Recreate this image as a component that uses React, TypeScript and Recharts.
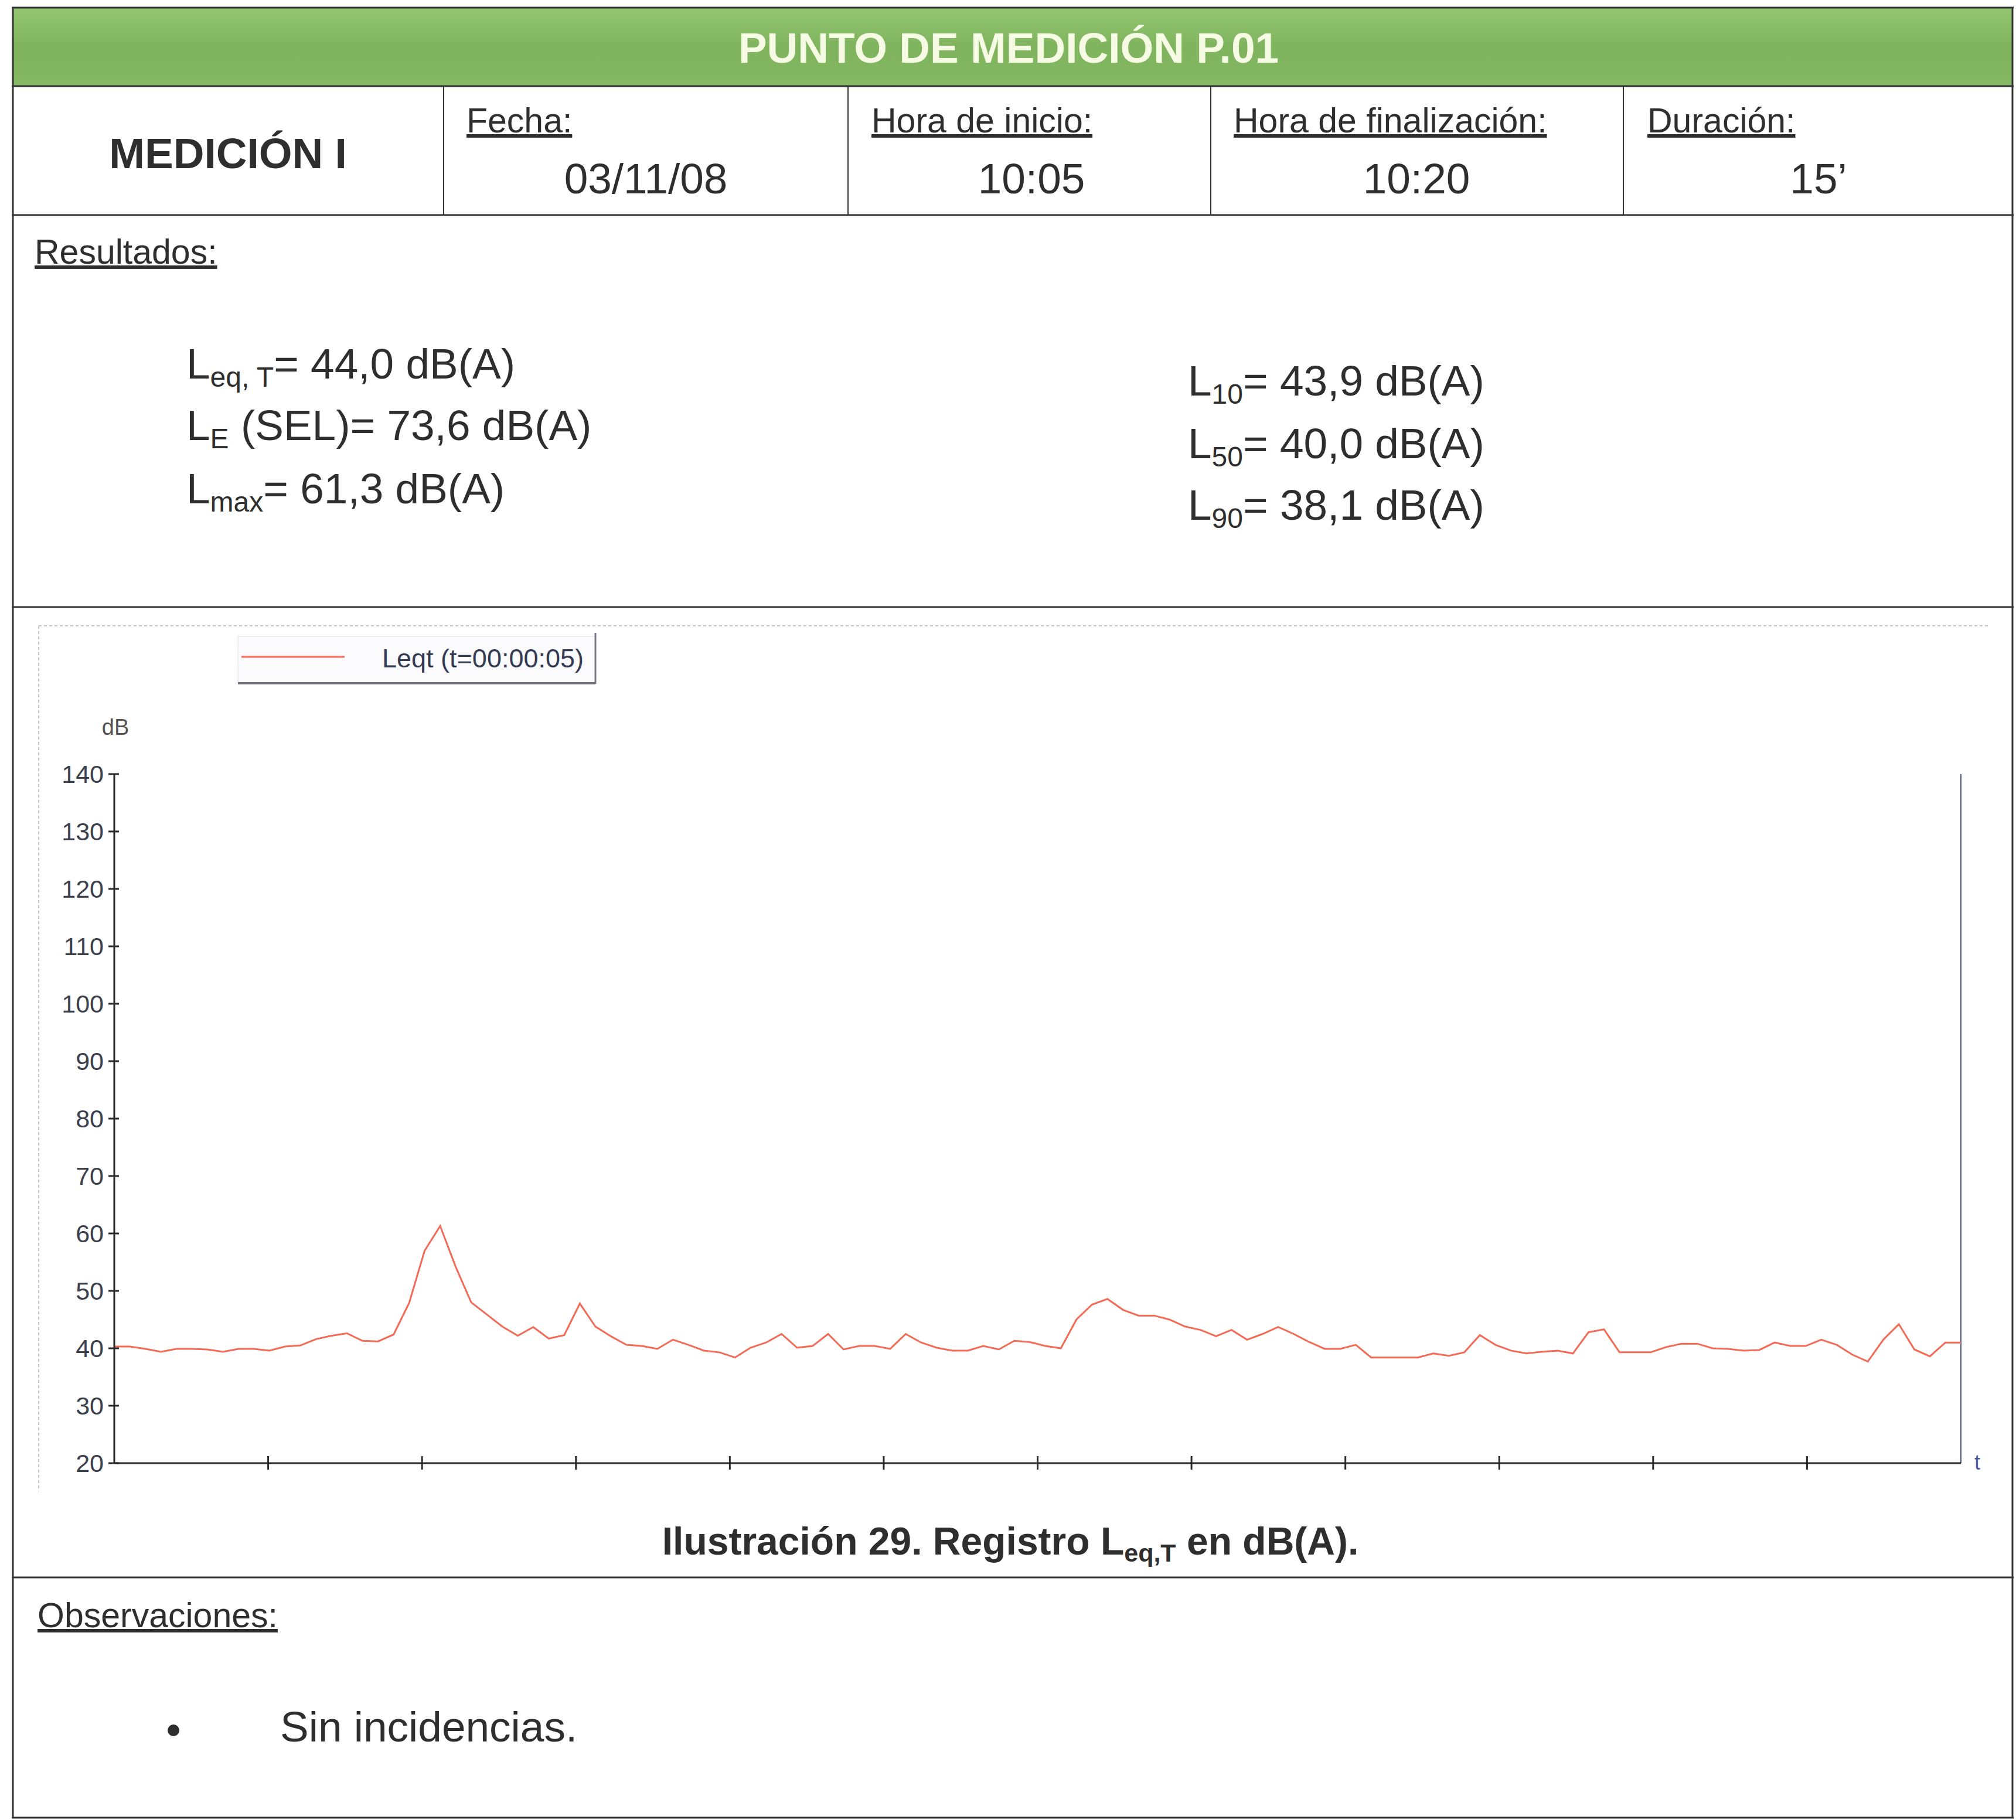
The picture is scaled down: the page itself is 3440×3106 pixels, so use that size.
import React from 'react';
import { LineChart, Line, XAxis, YAxis, ReferenceLine } from 'recharts';

// Leqt values (dB(A)), one every ~7.5 s over the 15' measurement
const LEQT: number[] = [
  40.3, 40.3, 39.9, 39.4, 39.9, 39.9, 39.8, 39.4, 39.9, 39.9,
  39.6, 40.3, 40.5, 41.6, 42.2, 42.6, 41.3, 41.2, 42.4, 47.9,
  57.0, 61.3, 54.2, 48.0, 45.9, 43.8, 42.2, 43.7, 41.7, 42.3,
  47.8, 43.8, 42.1, 40.6, 40.4, 39.9, 41.5, 40.6, 39.6, 39.3,
  38.4, 40.1, 41.0, 42.5, 40.1, 40.4, 42.5, 39.8, 40.4, 40.4,
  39.9, 42.5, 41.0, 40.1, 39.6, 39.6, 40.4, 39.8, 41.3, 41.1,
  40.4, 40.0, 45.0, 47.6, 48.6, 46.7, 45.7, 45.7, 45.0, 43.8,
  43.2, 42.1, 43.2, 41.5, 42.5, 43.7, 42.5, 41.1, 39.9, 39.9,
  40.6, 38.4, 38.4, 38.4, 38.4, 39.1, 38.7, 39.3, 42.3, 40.6,
  39.6, 39.1, 39.4, 39.6, 39.1, 42.8, 43.3, 39.3, 39.3, 39.3,
  40.2, 40.8, 40.8, 40.0, 39.9, 39.6, 39.7, 41.0, 40.4, 40.4,
  41.5, 40.6, 38.9, 37.7, 41.5, 44.2, 39.8, 38.6, 41.0, 41.0,
];

const Y_TICKS = [20, 30, 40, 50, 60, 70, 80, 90, 100, 110, 120, 130, 140];
const X_DIVISIONS = 12;
const SERIES_NAME = 'Leqt (t=00:00:05)';
const Y_UNIT = 'dB';
const X_UNIT = 't';

const TITLE = 'PUNTO DE MEDICIÓN P.01';
const MEASURE = 'MEDICIÓN I';
const FIELD_LABELS = ['Fecha:', 'Hora de inicio:', 'Hora de finalización:', 'Duración:'];
const FIELD_VALUES = ['03/11/08', '10:05', '10:20', '15’'];

const RESULTS_LEFT = [
  { sub: 'eq, T', rest: '= 44,0 dB(A)' },
  { sub: 'E', rest: ' (SEL)= 73,6 dB(A)' },
  { sub: 'max', rest: '= 61,3 dB(A)' },
];
const RESULTS_RIGHT = [
  { sub: '10', rest: '= 43,9 dB(A)' },
  { sub: '50', rest: '= 40,0 dB(A)' },
  { sub: '90', rest: '= 38,1 dB(A)' },
];

const data = LEQT.map((v, i) => ({ i, v }));
const LAST = LEQT.length - 1;
const X_TICKS = Array.from({ length: X_DIVISIONS - 1 }, (_, j) => ((j + 1) * LAST) / X_DIVISIONS);

const FONT = "'Liberation Sans', Arial, Helvetica, sans-serif";
const INK = '#2e2e2e';
const AXIS = '#2b2b2b';

const Y_MARGIN = 18;
const YTick = (props: any) => {
  const { x, y, payload } = props;
  const ax = x + Y_MARGIN;
  return (
    <g>
      <line x1={ax - 10} x2={ax + 8} y1={y} y2={y} stroke={AXIS} strokeWidth={3} />
      <text x={x} y={y} textAnchor="end" dominantBaseline="central" fontSize={43} fontFamily={FONT} fill="#3c404c">
        {payload.value}
      </text>
    </g>
  );
};

const X_MARGIN = 2;
const XTick = (props: any) => {
  const { x, y } = props;
  const ay = y - X_MARGIN;
  return <line x1={x} x2={x} y1={ay - 12} y2={ay + 11} stroke={AXIS} strokeWidth={3} />;
};

export default function App() {
  const labelX = [796, 1487, 2105, 2811];
  const valueX = [1102, 1760, 2417, 3103];
  const leftBase = [646, 751, 859];
  const rightBase = [675, 782, 887];
  return (
    <div style={{ position: 'absolute', left: 0, top: 0, width: 3440, height: 3106, background: '#fff', overflow: 'hidden' }}>
      <svg width={3440} height={3106} style={{ position: 'absolute', left: 0, top: 0 }}>
        <defs>
          <linearGradient id="hdr" x1="0" y1="0" x2="0" y2="1">
            <stop offset="0" stopColor="#94c672" />
            <stop offset="0.5" stopColor="#7fb35d" />
            <stop offset="1" stopColor="#84b862" />
          </linearGradient>
        </defs>
        <rect x={22} y={13} width={3412} height={134} fill="url(#hdr)" />
        <text x={1721} y={107} textAnchor="middle" fontFamily={FONT} fontWeight="bold" fontSize={73} fill="#f6fbe4">
          {TITLE}
        </text>
        {/* table lines */}
        <g stroke="#333" strokeWidth={3}>
          <line x1={20} x2={3436} y1={13} y2={13} />
          <line x1={20} x2={3436} y1={147} y2={147} />
          <line x1={20} x2={3436} y1={367} y2={367} />
          <line x1={20} x2={3436} y1={1036} y2={1036} />
          <line x1={20} x2={3436} y1={2692} y2={2692} />
          <line x1={20} x2={3436} y1={3102} y2={3102} />
          <line x1={22} x2={22} y1={13} y2={3102} />
          <line x1={3434} x2={3434} y1={13} y2={3102} />
        </g>
        <g stroke="#333" strokeWidth={2}>
          {[757, 1447, 2066, 2770].map((x) => (
            <line key={x} x1={x} x2={x} y1={147} y2={367} />
          ))}
        </g>
        <text x={389} y={287} textAnchor="middle" fontFamily={FONT} fontWeight="bold" fontSize={73} fill={INK}>
          {MEASURE}
        </text>
        {FIELD_LABELS.map((l, i) => (
          <text key={l} x={labelX[i]} y={226} fontFamily={FONT} fontSize={59} fill={INK} style={{ textDecoration: 'underline' }}>
            {l}
          </text>
        ))}
        {FIELD_VALUES.map((v, i) => (
          <text key={v} x={valueX[i]} y={330} textAnchor="middle" fontFamily={FONT} fontSize={73} fill={INK}>
            {v}
          </text>
        ))}
        {/* results */}
        <text x={59} y={450} fontFamily={FONT} fontSize={59} fill={INK} style={{ textDecoration: 'underline' }}>
          Resultados:
        </text>
        {RESULTS_LEFT.map((r, i) => (
          <text key={r.sub} x={318} y={leftBase[i]} fontFamily={FONT} fontSize={73} fill={INK}>
            L<tspan dy={14} fontSize={48}>{r.sub}</tspan>
            <tspan dy={-14}>{r.rest}</tspan>
          </text>
        ))}
        {RESULTS_RIGHT.map((r, i) => (
          <text key={r.sub} x={2027} y={rightBase[i]} fontFamily={FONT} fontSize={73} fill={INK}>
            L<tspan dy={14} fontSize={48}>{r.sub}</tspan>
            <tspan dy={-14}>{r.rest}</tspan>
          </text>
        ))}
        {/* chart frame (faint dotted) */}
        <g stroke="#c4c4c4" strokeWidth={2} strokeDasharray="5 4">
          <line x1={66} x2={3392} y1={1068} y2={1068} />
          <line x1={66} x2={66} y1={1068} y2={2545} />
        </g>
        {/* legend */}
        <rect x={406} y={1086} width={610} height={81} fill="#fbfbfd" stroke="#e2e2e8" strokeWidth={1} />
        <line x1={1016} x2={1016} y1={1080} y2={1167} stroke="#7a7a86" strokeWidth={3} />
        <line x1={406} x2={1016} y1={1166} y2={1166} stroke="#6e6e78" strokeWidth={4} />
        <line x1={412} x2={588} y1={1121} y2={1121} stroke="#f26b57" strokeWidth={3} />
        <text x={652} y={1139} fontFamily={FONT} fontSize={45} fill="#343a52">
          {SERIES_NAME}
        </text>
        <text x={197} y={1254} textAnchor="middle" fontFamily={FONT} fontSize={38} fill="#555">
          {Y_UNIT}
        </text>
        <text x={3374} y={2508} textAnchor="middle" fontFamily={FONT} fontSize={36} fill="#4a55a8">
          {X_UNIT}
        </text>
        {/* caption */}
        <text x={1724} y={2653} textAnchor="middle" fontFamily={FONT} fontWeight="bold" fontSize={66} fill={INK}>
          Ilustración 29. Registro L<tspan dy={12} fontSize={43}>eq,T</tspan>
          <tspan dy={-12}> en dB(A).</tspan>
        </text>
        {/* observations */}
        <text x={64} y={2777} fontFamily={FONT} fontSize={59} fill={INK} style={{ textDecoration: 'underline' }}>
          Observaciones:
        </text>
        <circle cx={296} cy={2953} r={10} fill={INK} />
        <text x={478} y={2972} fontFamily={FONT} fontSize={73} fill={INK}>
          Sin incidencias.
        </text>
      </svg>
      <div style={{ position: 'absolute', left: 0, top: 1036 }}>
        <LineChart width={3440} height={1564} data={data} margin={{ top: 285, right: 94, bottom: 63, left: 115 }}>
          <XAxis
            dataKey="i"
            type="number"
            domain={[0, LAST]}
            ticks={X_TICKS}
            height={40}
            tickSize={0}
            tickMargin={X_MARGIN}
            tick={<XTick />}
            axisLine={{ stroke: AXIS, strokeWidth: 3 }}
            interval={0}
          />
          <YAxis
            type="number"
            domain={[20, 140]}
            ticks={Y_TICKS}
            width={80}
            tickSize={0}
            tickMargin={Y_MARGIN}
            tick={<YTick />}
            axisLine={{ stroke: AXIS, strokeWidth: 3 }}
            interval={0}
          />
          <ReferenceLine x={LAST} stroke="#4d5688" strokeWidth={2} />
          <Line
            type="linear"
            dataKey="v"
            name={SERIES_NAME}
            stroke="#f26b57"
            strokeWidth={3}
            dot={false}
            isAnimationActive={false}
          />
        </LineChart>
      </div>
    </div>
  );
}
